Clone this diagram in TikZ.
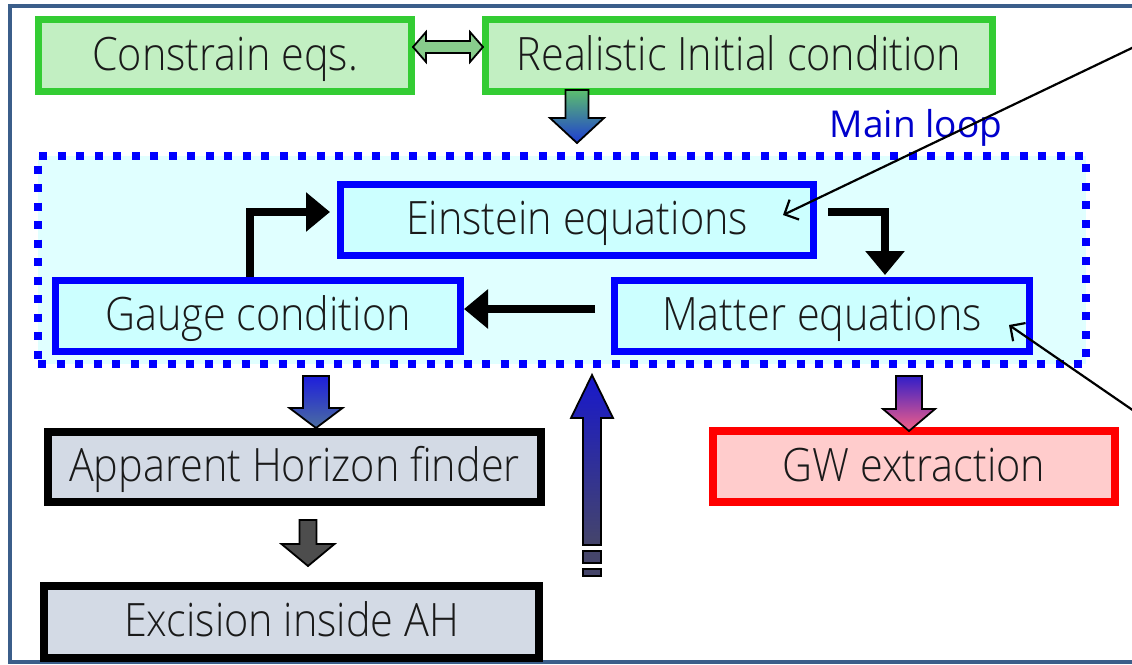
\documentclass[tikz,border=0pt]{standalone}
\usepackage{fontspec}
\setmainfont{Open Sans Light}[FakeStretch=0.9]
\newfontfamily\loopfont{Open Sans}
\usetikzlibrary{calc,arrows.meta}
\definecolor{framec}{RGB}{59,94,138}
\definecolor{grnb}{RGB}{51,204,51}
\definecolor{grnf}{RGB}{194,239,194}
\definecolor{dblf}{RGB}{136,204,140}
\definecolor{loopf}{RGB}{224,255,255}
\definecolor{bluef}{RGB}{204,255,255}
\definecolor{ahfill}{RGB}{211,218,229}
\definecolor{gwf}{RGB}{255,204,204}
\definecolor{txt}{RGB}{26,26,26}
\definecolor{mainloop}{RGB}{0,0,204}
\definecolor{aAtop}{RGB}{92,190,110}
\definecolor{aAbot}{RGB}{30,60,210}
\definecolor{aBtop}{RGB}{30,30,220}
\definecolor{aBbot}{RGB}{75,110,160}
\definecolor{aC}{RGB}{77,77,77}
\definecolor{aDtop}{RGB}{50,30,200}
\definecolor{aDmid}{RGB}{180,50,180}
\definecolor{aDbot}{RGB}{245,95,135}
\definecolor{aEtop}{RGB}{24,24,204}
\definecolor{aEbot}{RGB}{69,69,106}
\begin{document}
\begin{tikzpicture}[x=1pt,y=-1pt,
  box/.style={rectangle,inner sep=0pt,text height=40pt,text depth=11pt,font=\fontsize{46}{50}\selectfont,text=txt},
  greenbox/.style={box,draw=grnb,fill=grnf,line width=7pt},
  bluebox/.style={box,draw=blue,fill=bluef,line width=7pt},
  blackbox/.style={box,draw=black,fill=ahfill,line width=8pt},
  redbox/.style={box,draw=red,fill=gwf,line width=8pt},
  loopbox/.style={rectangle,draw=blue,fill=loopf,line width=8pt,dash pattern=on 8pt off 10.5pt},
  flow/.style={line width=8pt,-{Triangle[length=24pt,width=38pt]}},
  note/.style={line width=2.2pt,-{Straight Barb[length=11pt,width=22pt]}},
  blk/.style={draw=black,line width=1.8pt,line join=miter},
]
\useasboundingbox (0,0) rectangle (1132,664);
\clip (0,0) rectangle (1132,664);
\draw[framec,line width=4pt] (9.5,6) rectangle (1145,662);

% top boxes
\node[greenbox,minimum width=373pt,minimum height=72pt] (ce) at (225,55.5) {Constrain eqs.};
\node[greenbox,minimum width=507pt,minimum height=72pt] (ric) at (739,55.5) {Realistic Initial condition};
\path[blk,fill=dblf,shift={($(ce.east)+(-2,-8.5)$)}]
  (0,0) -- (13,-15) -- (13,-6) -- (57,-6) -- (57,-15) -- (70,0) -- (57,15) -- (57,6) -- (13,6) -- (13,15) -- cycle;
\path[blk,top color=aAtop,bottom color=aAbot,shift={($(ric.south)+(-162,-5)$)}]
  (-11.5,0) -- (11.5,0) -- (11.5,28) -- (27,28) -- (0,53) -- (-27,28) -- (-11.5,28) -- cycle;

% main loop
\node[loopbox,minimum width=1047.5pt,minimum height=208pt] (loop) at (561.75,260) {};
\node[font=\loopfont\fontsize{37}{40}\selectfont,text=mainloop,anchor=base,inner sep=0pt] (ml) at (916,137) {Main loop};

\node[bluebox,minimum width=473pt,minimum height=71pt] (ein) at (577,220) {Einstein equations};
\node[bluebox,minimum width=405pt,minimum height=71pt] (gau) at (258,316) {Gauge condition};
\node[bluebox,minimum width=415pt,minimum height=71pt] (mat) at (822,316) {Matter equations};

\draw[flow,shorten >=7pt] ($(gau.north)+(-8,0)$) |- ($(ein.west)+(0,-8)$);
\draw[flow,shorten >=2pt] ($(ein.east)+(11,-8)$) -| ($(mat.north)+(63,0)$);
\draw[flow] ($(mat.west)+(-16,-7)$) -- ($(gau.east)+(0,-7)$);

% lower boxes
\node[blackbox,minimum width=493pt,minimum height=70pt] (ahf) at (294.5,467) {Apparent Horizon finder};
\node[blackbox,minimum width=495pt,minimum height=72pt] (exc) at (291.5,622) {Excision inside AH};
\node[redbox,minimum width=402pt,minimum height=71pt] (gw) at (914,466.5) {GW extraction};

\path[blk,top color=aBtop,bottom color=aBbot,shift={($(gau.south)+(58,21)$)}]
  (-13,0) -- (13,0) -- (13,32) -- (26.5,32) -- (0,52) -- (-26.5,32) -- (-13,32) -- cycle;
\path[blk,fill=aC,shift={($(ahf.south)+(13.5,14)$)}]
  (-8.5,0) -- (8.5,0) -- (8.5,24) -- (26.5,24) -- (0,46) -- (-26.5,24) -- (-8.5,24) -- cycle;
\path[blk,top color=aDtop,middle color=aDmid,bottom color=aDbot,shift={($(gw.north)+(-5,-51)$)}]
  (-13,0) -- (13,0) -- (13,33) -- (26,33) -- (0,55) -- (-26,33) -- (-13,33) -- cycle;
\begin{scope}[shift={($(loop.south)+(30.25,7)$)}]
  \path[blk,top color=aEtop,bottom color=aEbot]
    (0,0) -- (21,43) -- (9,43) -- (9,170) -- (-9,170) -- (-9,43) -- (-21,43) -- cycle;
  \path[blk,fill=aEbot] (-9,176) rectangle (9,188);
  \path[blk,fill=aEbot] (-9,194) rectangle (9,201);
\end{scope}

% annotation pointers
\coordinate (n1) at (1134,47);
\coordinate (n2) at (1134,411);
\draw[note] (n1) -- ($(ein.east)+(-34,-5)$);
\draw[note] (n2) -- ($(mat.east)+(-24,9)$);
\end{tikzpicture}
\end{document}
